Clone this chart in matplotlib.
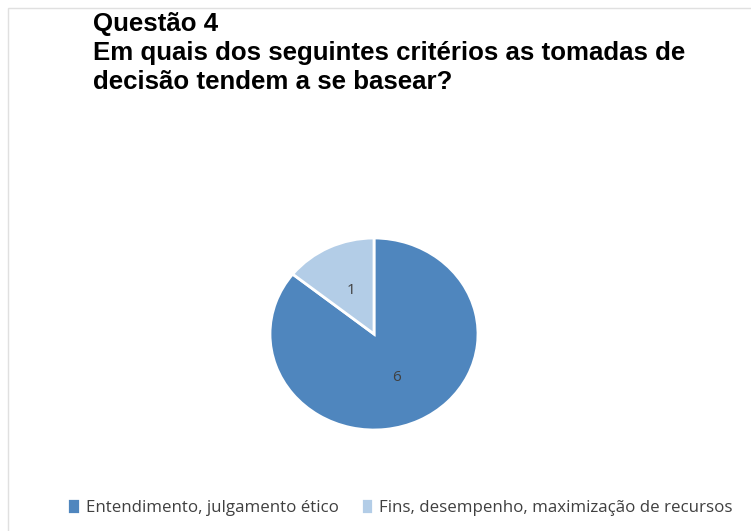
import matplotlib
matplotlib.use("Agg")
import matplotlib.pyplot as plt
from matplotlib.patches import Rectangle

title_lines = ["Questão 4", "Em quais dos seguintes critérios as tomadas de", "decisão tendem a se basear?"]
categories = ["Entendimento, julgamento ético", "Fins, desempenho, maximização de recursos"]
values = [6, 1]
colors = ["#4F86BE", "#B3CDE7"]

W, H = 751, 531
fig = plt.figure(figsize=(W / 100, H / 100), dpi=100)
fig.patches.append(Rectangle((8/W, -0.01), 1, 1.01 - 8/H, transform=fig.transFigure,
                             fill=False, edgecolor="#E0E0E0", linewidth=1))

baselines = [31, 60, 89]
for line, yb in zip(title_lines, baselines):
    fig.text(93/W, 1 - yb/H, line, ha="left", va="baseline",
             fontsize=18.6, fontweight="bold", family="Liberation Sans", color="black")

ax = fig.add_axes([270/W, 1 - 430/H, 208/W, 192/H])
total = sum(values)
wedges, texts, autotexts = ax.pie(values, colors=colors, startangle=90, counterclock=False,
                                  radius=1, wedgeprops=dict(edgecolor="white", linewidth=2),
                                  autopct=lambda p: f"{round(p * total / 100):d}",
                                  pctdistance=0.5,
                                  textprops=dict(fontsize=11, color="#404040", family="Open Sans"))
ax.set_xlim(-1, 1)
ax.set_ylim(-1, 1)
ax.set_aspect("auto")
ax.axis("off")

leg = fig.legend(wedges, categories, loc="center", bbox_to_anchor=(400/W, 1 - 507/H), ncol=2,
                 frameon=False, prop=dict(family="Open Sans", size=12.2),
                 handlelength=0.75, handleheight=1.05, handletextpad=0.35, columnspacing=1.3)
for t in leg.get_texts():
    t.set_color("#404040")

fig.savefig("out.png", dpi=100)
